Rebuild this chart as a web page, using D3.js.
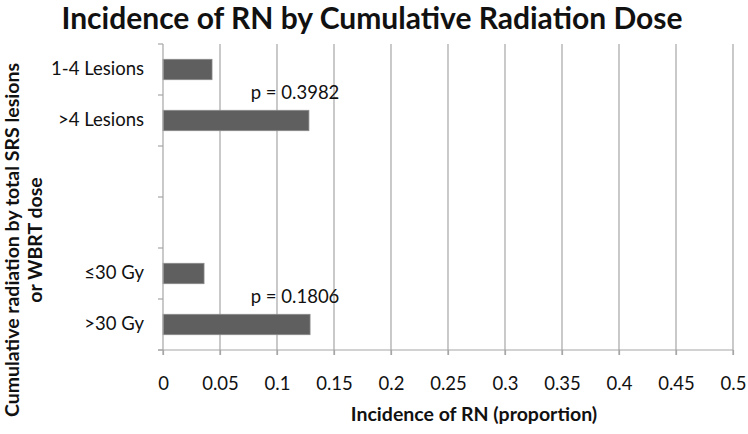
<!DOCTYPE html>
<html><head><meta charset="utf-8">
<script src="https://cdn.jsdelivr.net/npm/d3@7"></script>
<style>body{margin:0;background:#fff}svg{display:block}text{font-family:Lato,"Open Sans",sans-serif}</style>
</head><body><svg id="c" width="748" height="434"></svg>
<script>
const categories = ["1-4 Lesions", ">4 Lesions", "gap1", "gap2", "≤30 Gy", ">30 Gy"];
const categoryLabels = ["1-4 Lesions", ">4 Lesions", "", "", "≤30 Gy", ">30 Gy"];
const values = [0.043, 0.128, null, null, 0.036, 0.129];
const xTicks = [0, 0.05, 0.1, 0.15, 0.2, 0.25, 0.3, 0.35, 0.4, 0.45, 0.5];
const annotations = [{text: "p = 0.3982", x: 0.077, cat: ">4 Lesions"}, {text: "p = 0.1806", x: 0.077, cat: ">30 Gy"}];

const svg = d3.select("#c");
const m = {l: 163, r: 733, t: 44, b: 350};
const x = d3.scaleLinear().domain([0, 0.5]).range([m.l, m.r]);
const y = d3.scaleBand().domain(categories).range([m.t, m.b]).paddingInner(0.6).paddingOuter(0.3);
const yb = d3.scaleBand().domain(categories).range([m.t, m.b]);

// gridlines
svg.append("g").selectAll("line").data(xTicks.slice(1)).join("line")
  .attr("x1", d => x(d)).attr("x2", d => x(d)).attr("y1", m.t).attr("y2", m.b + 5)
  .attr("stroke", "#a6a6a6").attr("stroke-width", 1.2);

// bars
svg.append("g").selectAll("rect").data(categories.map((c, i) => ({c, v: values[i]})).filter(d => d.v != null)).join("rect")
  .attr("x", x(0)).attr("y", d => y(d.c)).attr("width", d => x(d.v) - x(0)).attr("height", y.bandwidth())
  .attr("fill", "#5f5f5f").attr("stroke", "#8a8a8a").attr("stroke-width", 0.8);

// x axis
const xa = svg.append("g").attr("transform", `translate(0,${m.b})`)
  .call(d3.axisBottom(x).tickValues(xTicks).tickSize(5).tickPadding(22).tickFormat(d => d3.format("")(+d.toFixed(2))));
xa.select(".domain").attr("stroke", "#a6a6a6").attr("stroke-width", 1.2).attr("d", `M${m.l - 5},0H${m.r}`);
xa.selectAll(".tick line").attr("stroke", "#a6a6a6").attr("stroke-width", 1.2);
xa.selectAll("text").attr("font-size", 18.5).attr("fill", "#111");

// y axis
const ya = svg.append("g").attr("transform", `translate(${m.l},0)`)
  .call(d3.axisLeft(yb).tickSize(0).tickPadding(19).tickFormat((d, i) => categoryLabels[i]));
ya.select(".domain").attr("stroke", "#a6a6a6").attr("stroke-width", 1.2).attr("d", `M0,${m.t}V${m.b + 5}`);
ya.selectAll("text").attr("font-size", 18.5).attr("fill", "#111");
// boundary ticks
const bounds = categories.map(c => yb(c)).concat([m.b]);
svg.append("g").selectAll("line").data(bounds).join("line")
  .attr("x1", m.l - 5).attr("x2", m.l).attr("y1", d => d).attr("y2", d => d)
  .attr("stroke", "#a6a6a6").attr("stroke-width", 1.2);

// annotations
svg.append("g").selectAll("text").data(annotations).join("text")
  .attr("x", d => x(d.x)).attr("y", d => yb(d.cat) - 1)
  .attr("font-size", 18.5).attr("fill", "#111").attr("dominant-baseline", "middle").text(d => d.text);

// title
svg.append("text").attr("x", 372).attr("y", 29).attr("text-anchor", "middle")
  .attr("font-size", 30).attr("font-weight", "bold").attr("fill", "#111")
  .text("Incidence of RN by Cumulative Radiation Dose");

// x axis title
svg.append("text").attr("x", x(0.25) + 26).attr("y", 421).attr("text-anchor", "middle")
  .attr("font-size", 19.5).attr("font-weight", "bold").attr("fill", "#111").text("Incidence of RN (proportion)");

// y axis title
const yt = svg.append("text").attr("transform", "translate(0,240) rotate(-90)").attr("text-anchor", "middle")
  .attr("font-size", 19.5).attr("font-weight", "bold").attr("fill", "#111");
yt.append("tspan").attr("x", 0).attr("y", 19).text("Cumulative radiation by total SRS lesions");
yt.append("tspan").attr("x", 0).attr("y", 42).text("or WBRT dose");
</script></body></html>
